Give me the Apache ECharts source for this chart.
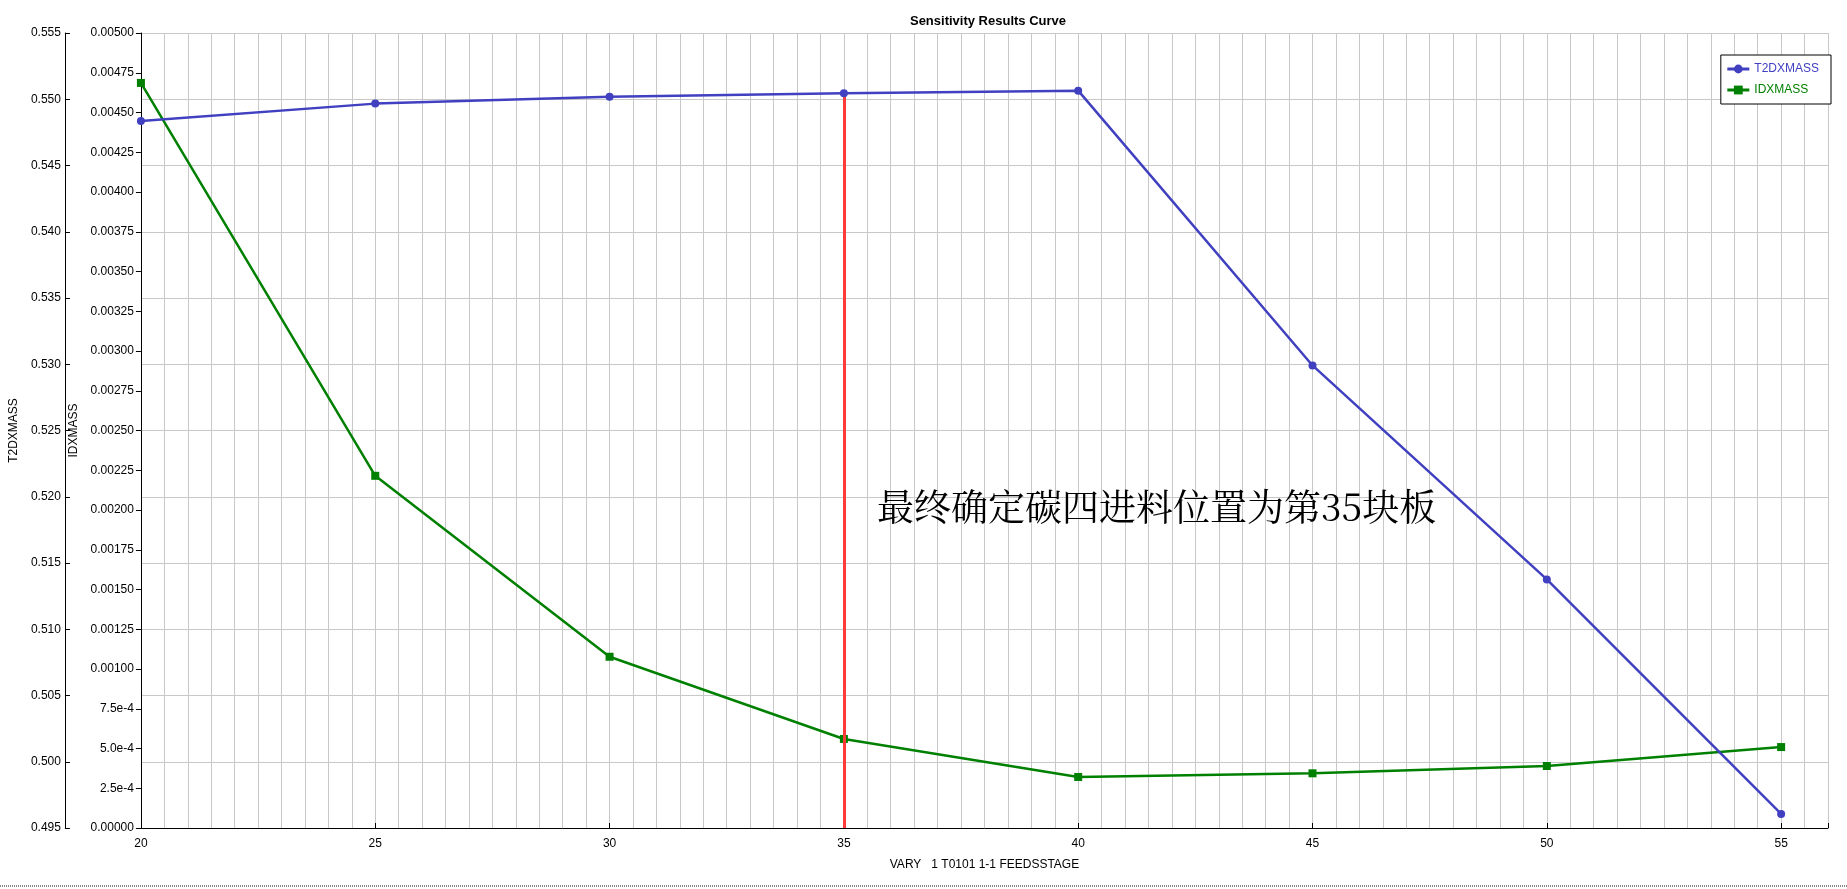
<!DOCTYPE html>
<html>
<head>
<meta charset="utf-8">
<script src="https://cdn.jsdelivr.net/npm/echarts@6/dist/echarts.min.js"></script>
<style>
html,body{margin:0;padding:0;background:#fff;}
#chart{width:1847px;height:889px;}
</style>
</head>
<body>
<div id="chart"></div>
<script>
// ---- data ----
const stages = [20, 25, 30, 35, 40, 45, 50, 55];
const t2dxmass = [0.54836, 0.54967, 0.55018, 0.55045, 0.55065, 0.52991, 0.51376, 0.49606];
const idxmass = [0.004686, 0.002215, 0.001077, 0.000560, 0.000321, 0.000344, 0.000390, 0.000509];
const chosenIndex = 3; // stage 35
const titleText = 'Sensitivity Results Curve';
const xName = 'VARY   1 T0101 1-1 FEEDSSTAGE';
const noteText = '最终确定碳四进料位置为第35块板';

const FONT = '"Liberation Sans", Arial, sans-serif';
const BLUE = '#4040c0';
const GREEN = '#008000';
const RED = '#ff3a3a';

const chart = echarts.init(document.getElementById('chart'), null, {renderer: 'canvas'});

function idxFmt(v) {
  if (Math.abs(v) < 1e-12) return '0.00000';
  if (v < 0.000999) return (v * 1e4).toFixed(1) + 'e-4';
  return v.toFixed(5);
}

const option = {
  backgroundColor: '#fff',
  animation: false,
  title: {
    text: titleText,
    left: 983,
    top: 10,
    textAlign: 'center',
    textStyle: {fontFamily: FONT, fontSize: 13, fontWeight: 'bold', color: '#000'}
  },
  legend: {
    orient: 'vertical',
    right: 16,
    top: 55,
    backgroundColor: '#fff',
    borderColor: '#000',
    borderWidth: 1,
    padding: [8, 12, 8, 5],
    itemGap: 9,
    itemWidth: 22,
    itemHeight: 11,
    lineStyle: {width: 3},
    textStyle: {fontFamily: FONT, fontSize: 12},
    data: [
      {name: 'T2DXMASS', textStyle: {color: BLUE}},
      {name: 'IDXMASS', textStyle: {color: GREEN}}
    ]
  },
  grid: {left: 138, right: 19, top: 33, bottom: 61, containLabel: false},
  xAxis: [
    {
      type: 'value',
      min: 20, max: 56, interval: 5,
      name: xName,
      nameLocation: 'middle',
      nameGap: 31,
      nameTextStyle: {fontFamily: FONT, fontSize: 12, color: '#000'},
      axisLine: {show: true, onZero: false, lineStyle: {color: '#000', width: 1}},
      axisTick: {show: true, inside: true, length: 5, lineStyle: {color: '#000'}},
      axisLabel: {
        fontFamily: FONT, fontSize: 12, color: '#000', margin: 10,
        formatter: v => (v % 5 === 0 ? String(v) : '')
      },
      splitLine: {show: false}
    },
    {
      type: 'value',
      min: 20, max: 56, interval: 0.5,
      axisLine: {show: false},
      axisTick: {show: false},
      axisLabel: {show: false},
      splitLine: {show: true, lineStyle: {color: '#c8c8c8', width: 1}}
    }
  ],
  yAxis: [
    {
      type: 'value',
      name: 'T2DXMASS',
      position: 'left',
      offset: 76,
      min: 0.495, max: 0.555, interval: 0.005,
      nameLocation: 'middle',
      nameGap: 35,
      nameTextStyle: {fontFamily: FONT, fontSize: 12, color: '#000'},
      axisLine: {show: true, lineStyle: {color: '#000', width: 1}},
      axisTick: {show: true, inside: true, length: 5, lineStyle: {color: '#000'}},
      axisLabel: {fontFamily: FONT, fontSize: 12, color: '#000', margin: 4,
        formatter: v => v.toFixed(3)},
      splitLine: {show: true, lineStyle: {color: '#c8c8c8', width: 1}}
    },
    {
      type: 'value',
      name: 'IDXMASS',
      position: 'left',
      offset: 0,
      min: 0, max: 0.005, interval: 0.00025,
      nameLocation: 'middle',
      nameGap: 52,
      nameTextStyle: {fontFamily: FONT, fontSize: 12, color: '#000'},
      axisLine: {show: true, lineStyle: {color: '#000', width: 1}},
      axisTick: {show: true, inside: false, length: 5, lineStyle: {color: '#000'}},
      axisLabel: {fontFamily: FONT, fontSize: 12, color: '#000', margin: 7,
        formatter: idxFmt},
      splitLine: {show: false}
    }
  ],
  series: [
    {
      name: 'T2DXMASS',
      type: 'line',
      xAxisIndex: 0,
      yAxisIndex: 0,
      z: 4,
      data: stages.map((s, i) => [s, t2dxmass[i]]),
      symbol: 'circle',
      symbolSize: 8,
      itemStyle: {color: BLUE},
      lineStyle: {color: BLUE, width: 2.5},
      markLine: {
        silent: true,
        symbol: 'none',
        z: 3,
        label: {show: false},
        lineStyle: {color: RED, width: 3, type: 'solid'},
        data: [[
          {coord: [stages[chosenIndex], 0.495]},
          {coord: [stages[chosenIndex], t2dxmass[chosenIndex]]}
        ]]
      }
    },
    {
      name: 'IDXMASS',
      type: 'line',
      xAxisIndex: 0,
      yAxisIndex: 1,
      z: 2,
      data: stages.map((s, i) => [s, idxmass[i]]),
      symbol: 'rect',
      symbolSize: 8,
      itemStyle: {color: GREEN},
      lineStyle: {color: GREEN, width: 2.5}
    }
  ],
  graphic: [
    {
      type: 'text',
      left: 877,
      top: 488,
      z: 10,
      style: {
        text: noteText,
        font: '37px "Noto Serif CJK SC", "Noto Sans CJK SC", serif',
        fill: '#000'
      }
    },
    {
      type: 'line',
      shape: {x1: 0, y1: 886, x2: 1847, y2: 886},
      style: {stroke: '#8a8a8a', lineWidth: 2, lineDash: [1, 1]}
    }
  ]
};

chart.setOption(option);
</script>
</body>
</html>
